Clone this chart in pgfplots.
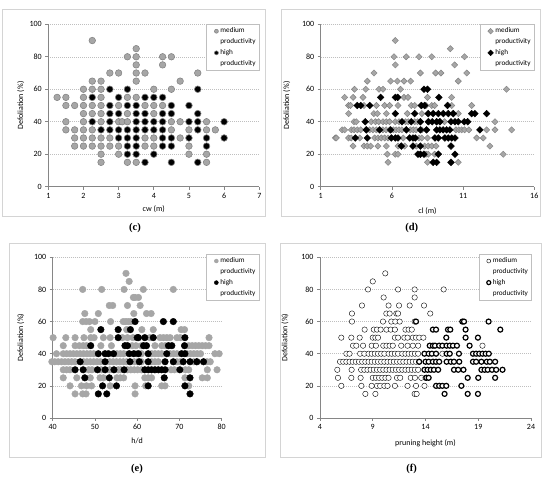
\documentclass[border=0pt]{standalone}
\usepackage{fontspec}
\setmainfont{Carlito}
\newfontfamily\labfont{Liberation Serif}
\usepackage{pgfplots}
\pgfplotsset{compat=1.18}
\definecolor{medgray}{HTML}{A6A6A6}
\definecolor{edgegray}{HTML}{7F7F7F}
\definecolor{axgray}{HTML}{868686}
\definecolor{gridgray}{HTML}{BFBFBF}
\definecolor{framegray}{HTML}{D4D4D4}

\pgfplotsset{
  panel/.style={
    scale only axis, anchor=south west, clip=false,
    axis x line*=bottom, axis y line*=left,
    axis line style={axgray, line width=0.6pt},
    tick style={axgray, line width=0.6pt},
    tick align=outside, major tick length=3pt,
    ymin=0, ymax=100, ytick={0,20,...,100},
    ymajorgrids, grid style={gridgray, dash pattern=on 1pt off 1pt, line width=0.5pt},
    ticklabel style={font=\fontsize{8}{9}\selectfont},
    /pgf/number format/assume math mode=true,
    label style={font=\fontsize{8}{9}\selectfont},
    ylabel={Defoliation (\%)},
    legend cell align=left,
    legend image post style={mark size=2pt},
    legend style={font=\fontsize{7.2}{8}\selectfont, draw=gridgray, fill=white,
      inner xsep=1.5pt, inner ysep=1.5pt, row sep=0.3pt, anchor=north east,
      /tikz/every even column/.append style={column sep=0pt}},
  },
  medc/.style={only marks, mark=*, mark size=3.3pt,
    mark options={fill=medgray, draw=edgegray, line width=0.5pt}},
  highc/.style={only marks, mark=*, mark size=3.3pt,
    mark options={fill=black, draw=edgegray, line width=0.6pt}},
  medd/.style={only marks, mark=square*, mark size=2.2pt,
    mark options={rotate=45, fill=medgray, draw=edgegray, line width=0.4pt}},
  highd/.style={only marks, mark=square*, mark size=2.4pt,
    mark options={rotate=45, fill=black, draw=black}},
  mede/.style={only marks, mark=*, mark size=3.3pt,
    mark options={fill=medgray, draw=medgray}},
  highe/.style={only marks, mark=*, mark size=3.3pt,
    mark options={fill=black, draw=black}},
  medf/.style={only marks, mark=*, mark size=2.7pt,
    mark options={fill=white, draw=black, line width=0.4pt}},
  highf/.style={only marks, mark=*, mark size=2.5pt,
    mark options={fill=white, draw=black, line width=1.2pt}},
}

\begin{document}
\begin{tikzpicture}
\fill[white] (0,0) rectangle (550pt,478pt);
\draw[framegray, line width=0.8pt] (2.7pt,261.3pt) rectangle (265pt,469pt);
\draw[framegray, line width=0.8pt] (281.7pt,261.3pt) rectangle (540pt,469pt);
\draw[framegray, line width=0.8pt] (9.3pt,20.7pt) rectangle (265pt,235pt);
\draw[framegray, line width=0.8pt] (280pt,20.7pt) rectangle (541.7pt,235pt);
\node[font=\labfont\bfseries\fontsize{10.5}{12}\selectfont] at (135pt,250pt) {(c)};
\node[font=\labfont\bfseries\fontsize{10.5}{12}\selectfont] at (411.7pt,250pt) {(d)};
\node[font=\labfont\bfseries\fontsize{10.5}{12}\selectfont] at (137pt,9pt) {(e)};
\node[font=\labfont\bfseries\fontsize{10.5}{12}\selectfont] at (411.7pt,9pt) {(f)};

% (c) crown width
\begin{axis}[panel, at={(48.3pt,291.3pt)}, width=211pt, height=162.4pt,
  xmin=1, xmax=7, xtick={1,...,7}, xlabel={cw (m)},
  xlabel style={at={(axis description cs:0.5,-0.139)}, anchor=center},
  ylabel style={at={(axis description cs:-0.131,0.5)}, anchor=center},
  legend style={at={(1,1)}}]
\addplot[medc] coordinates {
(2.25,90) (3.5,85)
(3.25,80)(3.5,80)(4.25,80)(4.5,80)
(3.5,75)(4.25,75)
(2.75,70)(3,70)(3.5,70)(3.75,70)(5.25,70)
(2.25,65)(2.5,65)(3.5,65)(4.75,65)
(2,60)(2.25,60)(2.5,60)(4,60)(4.5,60)
(1.25,55)(1.5,55)(2,55)(2.5,55)(3.25,55)(3.5,55)
(1.5,50)(1.75,50)(2,50)(2.25,50)(2.5,50)(3,50)(3.75,50)(4,50)(4.25,50)
(2,45)(2.25,45)(2.5,45)(3.25,45)(4,45)
(1.5,40)(2,40)(2.5,40)(3,40)(3.1,40)(3.25,40)(4.5,40)(4.75,40)(5.5,40)
(1.5,35)(1.75,35)(2,35)(2.25,35)(4.5,35)(5,35)(5.5,35)(5.75,35)
(1.75,30)(2,30)(2.25,30)(2.5,30)(2.75,30)(3.75,30)(4,30)(4.75,30)
(1.75,25)(2,25)(2.25,25)(2.5,25)(2.75,25)(3,25)(3.75,25)(4,25)(5,25)
(2.5,20)(3,20)(5,20)(5.5,20)
(2.5,15)(3.25,15)(3.5,15)(5.5,15)
};
\addlegendentry{medium}
\addlegendimage{empty legend}\addlegendentry{productivity}
\addplot[highc] coordinates {
(2.75,60)(3.25,60)(5.25,60)
(2.25,55)(3,55)(3.75,55)(4,55)(4.25,55)
(2.75,50)(3.25,50)(3.5,50)(4.5,50)(5,50)
(2.75,45)(3,45)(3.5,45)(3.75,45)(4.25,45)(4.5,45)(5.25,45)
(2.25,40)(2.75,40)(3.5,40)(3.75,40)(4,40)(4.25,40)(5,40)(5.25,40)(6,40)
(2.5,35)(2.75,35)(3,35)(3.25,35)(3.5,35)(3.75,35)(4,35)(4.25,35)(5.25,35)
(3,30)(3.25,30)(3.5,30)(4.25,30)(4.5,30)(5,30)(5.5,30)(6,30)
(3.25,25)(3.5,25)(4.25,25)(4.5,25)(5.5,25)
(3.25,20)(3.5,20)(4,20)
(3.75,15)(4.5,15)(5.25,15)
};
\addlegendentry{high}
\addlegendimage{empty legend}\addlegendentry{productivity}
\end{axis}

% (d) crown length
\begin{axis}[panel, at={(320.7pt,291.3pt)}, width=213.6pt, height=162.4pt,
  xmin=1, xmax=16, xtick={1,6,11,16}, xlabel={cl (m)},
  xlabel style={at={(axis description cs:0.5,-0.148)}, anchor=center},
  ylabel style={at={(axis description cs:-0.159,0.5)}, anchor=center},
  legend style={at={(1,1)}}]
\addplot[medd] coordinates {
(6.24,90) (10.1,85)
(6.15,80)(7.0,80)(7.9,80)(8.8,80)(11.1,80)
(6.24,75)(10.4,75)
(4.74,70)(8.0,70)(9.07,70)(9.44,70)(11.25,70)
(4.27,65)(5.91,65)(6.38,65)(6.85,65)(7.32,65)(10.66,65)
(3.38,60)(4.16,60)(5.09,60)(5.37,60)(6.61,60)(14.05,60)
(2.68,55)(3.27,55)(3.97,55)(6.43,55)(6.85,55)(7.13,55)(8.5,55)(10.19,55)
(2.96,50)(3.1,50)(4.04,50)(4.91,50)(5.49,50)(5.84,50)(6.43,50)(7.36,50)(7.6,50)(8.4,50)(8.8,50)(9.0,50)(10.2,50)(11.6,50)
(2.96,45)(4.74,45)(4.98,45)(5.61,45)(7.08,45)(8.1,45)(10.66,45)
(3.34,40)(3.5,40)(4.55,40)(4.84,40)(5.07,40)(5.37,40)(5.6,40)(5.84,40)(6.24,40)(6.5,40)(6.95,40)(7.15,40)(7.6,40)(7.8,40)(8.6,40)(9.7,40)(13.24,40)
(2.5,35)(2.68,35)(3.15,35)(3.34,35)(3.57,35)(3.81,35)(4.44,35)(4.67,35)(4.91,35)(5.37,35)(5.6,35)(5.84,35)(6.1,35)(6.3,35)(6.5,35)(6.7,35)(7.3,35)(7.5,35)(7.7,35)(8.1,35)(8.4,35)(10.5,35)(10.7,35)(10.9,35)(11.1,35)(11.4,35)(12.65,35)(13.24,35)(14.41,35)
(2.03,30)(2.1,30)(2.96,30)(3.15,30)(3.74,30)(4.79,30)(5.02,30)(5.26,30)(5.49,30)(5.73,30)(6.8,30)(7.9,30)(8.1,30)(8.5,30)(11.95,30)(12.42,30)
(3.27,25)(4.04,25)(4.27,25)(4.51,25)(5.02,25)(5.61,25)(6.43,25)(6.9,25)(7.72,25)(8.3,25)(8.55,25)(8.8,25)(9.1,25)(12.88,25)
(5.68,20)(6.24,20)(6.43,20)(8.4,20)(8.55,20)(9.0,20)(13.82,20)
(5.73,15)(8.5,15)(10.66,15)
};
\addlegendentry{medium}
\addlegendimage{empty legend}\addlegendentry{productivity}
\addplot[highd] coordinates {
(8.25,60)(8.5,60)
(5.21,55)(6.24,55)(6.4,55)(9.3,55)
(3.57,50)(3.81,50)(4.44,50)(8.07,50)(8.3,50)(9.91,50)
(6.24,45)(7.6,45)(8.55,45)(8.9,45)(9.26,45)(9.61,45)(9.96,45)(10.31,45)(11.6,45)(11.83,45)(12.65,45)
(4.13,40)(6.71,40)(7.36,40)(8.0,40)(8.55,40)(8.83,40)(9.14,40)(9.37,40)(10.15,40)(10.43,40)(10.66,40)(11.08,40)(11.32,40)
(4.2,35)(5.14,35)(5.91,35)(7.01,35)(8.0,35)(8.44,35)(9.14,35)(9.37,35)(9.6,35)(9.84,35)(10.07,35)(12.18,35)
(3.43,30)(4.27,30)(5.96,30)(6.24,30)(6.43,30)(7.25,30)(7.48,30)(7.64,30)(9.02,30)(9.26,30)(9.72,30)(9.96,30)(10.2,30)(10.43,30)
(6.66,25)(7.48,25)(8.0,25)(10.15,25)
(7.83,20)(8.0,20)(8.25,20)(9.26,20)(10.43,20)
(8.9,15)(9.14,15)(10.15,15)
};
\addlegendentry{high}
\addlegendimage{empty legend}\addlegendentry{productivity}
\end{axis}

% (e) slenderness
\begin{axis}[panel, at={(52.7pt,60pt)}, width=169pt, height=160.7pt,
  xmin=40, xmax=80, xtick={40,50,...,80}, xlabel={h/d},
  xlabel style={at={(axis description cs:0.5,-0.145)}, anchor=center},
  ylabel style={at={(axis description cs:-0.189,0.5)}, anchor=center},
  legend style={at={(1.222,1.02)}}]
\addplot[mede] coordinates {
(57.35,90) (58.1,85)
(47.1,80)(51.6,80)(56.9,80)(61.45,80)(68.55,80)
(59.1,75)(59.5,75)(60.3,75)
(53.4,70)(54.2,70)(57.7,70)(60.7,70)
(47.6,65)(50.8,65)(59.2,65)(62.2,65)(63.3,65)
(47.1,60)(47.9,60)(48.7,60)(50,60)(53.7,60)(56.7,60)(57.3,60)(57.9,60)(58.5,60)
(49,55)(57.5,55)(61.1,55)(63.8,55)(70.4,55)(71.2,55)
(40.1,50)(43.1,50)(45.3,50)(47.4,50)(49,50)(49.8,50)(52,50)(53.6,50)(56.5,50)(57.7,50)(59,50)(63,50)(65.4,50)(66.2,50)(67,50)(67.8,50)(69.4,50)(70.2,50)(77,50)
(42.5,45)(45.3,45)(46.3,45)(47.2,45)(48,45)(51.4,45)(53.9,45)(58.8,45)(59.7,45)(61,45)(64.2,45)(65.8,45)(66.6,45)(72.2,45)(73,45)(73.8,45)(74.6,45)(75.4,45)(76.2,45)(77,45)
(40.9,40)(42.5,40)(43.3,40)(44.1,40)(44.9,40)(45.7,40)(46.5,40)(47.3,40)(48.1,40)(48.9,40)(49.7,40)(55.2,40)(56,40)(56.8,40)(59.9,40)(61,40)(63.4,40)(64.2,40)(65,40)(65.8,40)(67.8,40)(68.6,40)(69.4,40)(71.8,40)(72.6,40)(73.4,40)(74.2,40)(75,40)(78.4,40)(79.4,40)
(39.8,35)(40.5,35)(41.3,35)(42.1,35)(42.9,35)(43.7,35)(44.5,35)(45.3,35)(47.3,35)(48.1,35)(48.9,35)(49.7,35)(50.5,35)(51.3,35)(53.5,35)(54.3,35)(55.1,35)(55.9,35)(56.7,35)(57.5,35)(59.3,35)(60.1,35)(61,35)(63.4,35)(64.2,35)(65,35)(69.4,35)(70.2,35)(73.4,35)(74.2,35)(76.5,35)(77.3,35)
(42.5,30)(43.3,30)(44.1,30)(48.5,30)(49.3,30)(51.5,30)(53.5,30)(55.5,30)(56.1,30)(57.7,30)(58.5,30)(59.3,30)(60.1,30)(61,30)(68,30)(68.8,30)(71.4,30)(72.2,30)(76.6,30)(78.9,30)
(42.5,25)(45.7,25)(48.9,25)(51.2,25)(52,25)(55.2,25)(56,25)(56.8,25)(61.8,25)(62.6,25)(63.4,25)(71.3,25)(75.4,25)(76.6,25)
(44.1,20)(46.8,20)(48,20)(49.2,20)(53.6,20)(59.5,20)(62,20)(65.8,20)(66.6,20)(72.2,20)
(45.3,15)(47.1,15)(47.9,15)(59.5,15)
};
\addlegendentry{medium}
\addlegendimage{empty legend}\addlegendentry{productivity}
\addplot[highe] coordinates {
(59.5,60)(66.2,60)(68.55,60)
(51.4,55)(55.5,55)(58.4,55)
(55.5,50)(60,50)(60.3,50)(61.8,50)(63.8,50)(71.3,50)
(49,45)(57.1,45)(57.7,45)(61.5,45)(62.2,45)(67.4,45)(68.2,45)(71.2,45)
(50.8,40)(52.4,40)(53.2,40)(54.4,40)(58.1,40)(59.2,40)(60.3,40)(62.6,40)(67,40)(70.5,40)(71.3,40)
(46.5,35)(52.4,35)(58.3,35)(60.5,35)(62.6,35)(66.6,35)(68.55,35)(70.9,35)(72.5,35)(74.1,35)(75.7,35)
(45.3,30)(47.2,30)(50.6,30)(52.4,30)(54.5,30)(56.9,30)(61.8,30)(62.6,30)(63.4,30)(64.2,30)(65,30)(65.8,30)(66.6,30)(70.1,30)
(47.6,25)(53.4,25)(66.4,25)(72.5,25)
(51.8,20)(55.1,20)(62.6,20)(71.3,20)
(50.8,15)(52.8,15)(72.5,15)
};
\addlegendentry{high}
\addlegendimage{empty legend}\addlegendentry{productivity}
\end{axis}

% (f) pruning height
\begin{axis}[panel, at={(320pt,60pt)}, width=211pt, height=160.7pt,
  xmin=4, xmax=24, xtick={4,9,14,19,24}, xlabel={pruning height (m)},
  xlabel style={at={(axis description cs:0.5,-0.156)}, anchor=center},
  ylabel style={at={(axis description cs:-0.166,0.5)}, anchor=center},
  legend style={at={(1.003,1.02)}}]
\addplot[medf] coordinates {
(10.19,90) (9.0,85)
(8.55,80)(11.4,80)(12.97,80)(15.72,80)
(10.03,75)(12.97,75)
(7.98,70)(10.5,70)(11.49,70)(12.5,70)(13.86,70)
(7.03,65)(10.29,65)(10.6,65)(11.24,65)(11.4,65)(14.45,65)
(7.03,60)(9.97,60)(10.76,60)(11.14,60)(11.55,60)(12.97,60)
(8.23,55)(9.1,55)(9.4,55)(9.75,55)(10.3,55)(10.7,55)(11.1,55)(12.1,55)(12.4,55)(12.7,55)
(6.02,50)(6.97,50)(7.76,50)(9.0,50)(9.25,50)(9.5,50)(11.1,50)(11.4,50)(12.0,50)(12.3,50)(12.8,50)(13.1,50)(13.4,50)(13.8,50)
(7.13,45)(7.44,45)(8.08,45)(8.9,45)(9.3,45)(10.0,45)(10.3,45)(10.6,45)(10.9,45)(11.7,45)(12.3,45)(12.8,45)(13.3,45)(19.4,45)
(6.5,40)(6.8,40)(7.8,40)(8.2,40)(8.6,40)(8.9,40)(9.2,40)(9.5,40)(9.8,40)(10.1,40)(10.5,40)(10.8,40)(11.1,40)(11.4,40)(11.8,40)(12.1,40)(12.4,40)(12.7,40)(13.0,40)(13.3,40)(15.6,40)
(5.9,35)(6.2,35)(6.5,35)(6.8,35)(7.1,35)(7.4,35)(7.7,35)(8.0,35)(8.3,35)(8.6,35)(8.9,35)(9.2,35)(9.5,35)(9.8,35)(10.1,35)(10.4,35)(10.7,35)(11.0,35)(11.3,35)(11.6,35)(11.9,35)(12.2,35)(12.5,35)(12.8,35)(13.1,35)(13.4,35)
(5.64,30)(7.0,30)(7.9,30)(8.2,30)(8.5,30)(8.8,30)(9.1,30)(9.4,30)(9.7,30)(10.0,30)(10.3,30)(10.6,30)(10.9,30)(11.2,30)(11.5,30)(11.8,30)(12.1,30)(12.4,30)(12.7,30)(13.0,30)(13.3,30)
(5.7,25)(6.97,25)(7.85,25)(9.0,25)(9.3,25)(9.6,25)(9.9,25)(10.2,25)(10.5,25)(11.3,25)(11.6,25)(12.6,25)(13.0,25)(13.6,25)(14.0,25)
(6.02,20)(7.92,20)(8.9,20)(9.4,20)(9.7,20)(10.1,20)(10.4,20)(11.1,20)(12.3,20)(13.1,20)(13.9,20)
(8.3,15)(9.25,15)(12.97,15)(13.16,15)
};
\addlegendentry{medium}
\addlegendimage{empty legend}\addlegendentry{productivity}
\addplot[highf] coordinates {
(13.1,60)(17.49,60)(17.65,60)(19.98,60)
(14.7,55)(15.0,55)(16.13,55)(16.35,55)(17.8,55)(21.09,55)
(15.97,50)(17.8,50)(18.97,50)
(14.4,45)(14.7,45)(14.9,45)(15.3,45)(15.6,45)(16.0,45)(16.3,45)(16.6,45)(16.98,45)(18.18,45)
(13.9,40)(14.3,40)(14.6,40)(15.0,40)(16.0,40)(16.3,40)(17.17,40)(18.5,40)(18.8,40)(19.1,40)(19.4,40)(19.7,40)(20.0,40)
(13.4,35)(14.0,35)(14.3,35)(14.7,35)(15.0,35)(15.3,35)(16.0,35)(16.4,35)(16.7,35)(17.2,35)(18.5,35)(18.8,35)(19.3,35)(19.8,35)(20.1,35)(20.6,35)
(13.9,30)(14.2,30)(14.5,30)(14.8,30)(15.2,30)(16.7,30)(17.1,30)(17.6,30)(19.3,30)(19.6,30)(19.9,30)(20.3,30)(20.7,30)(21.3,30)
(14.08,25)(14.3,25)(18.0,25)(19.0,25)(20.6,25)
(15.0,20)(15.3,20)(15.6,20)(15.97,20)(17.4,20)
(15.81,15)(18.0,15)(18.97,15)
};
\addlegendentry{high}
\addlegendimage{empty legend}\addlegendentry{productivity}
\end{axis}
\end{tikzpicture}
\end{document}
